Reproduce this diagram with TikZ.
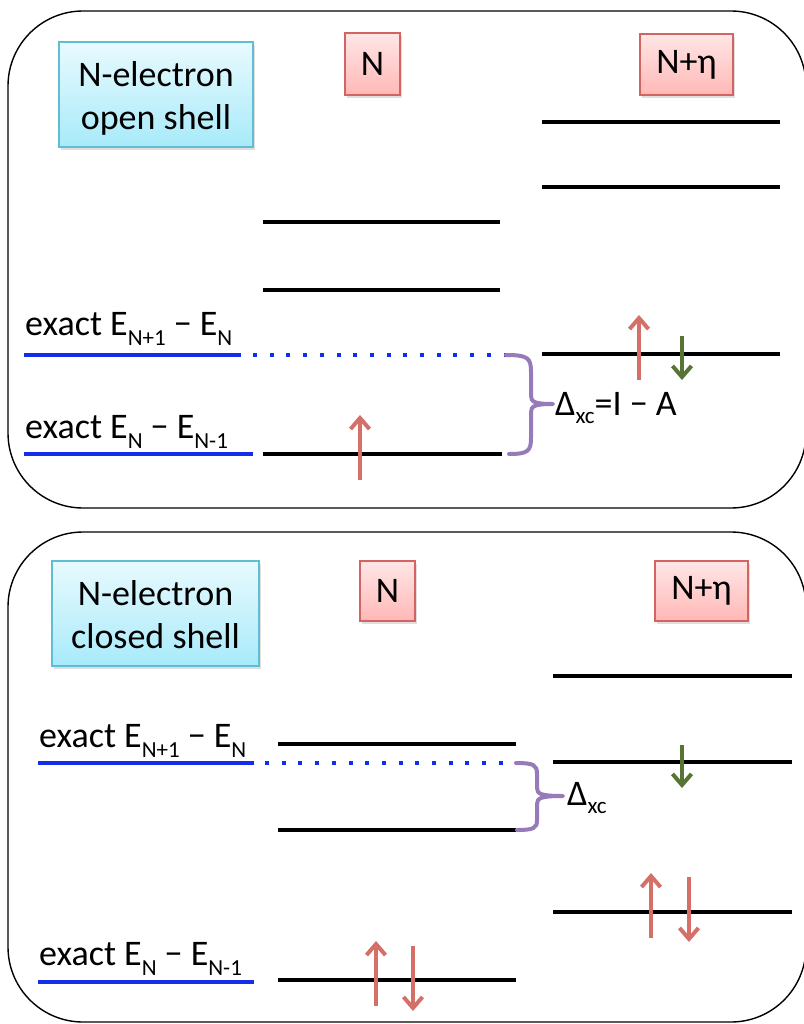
\documentclass[tikz,border=0pt]{standalone}
\usepackage{fontspec}
\setmainfont{Carlito}
\usetikzlibrary{arrows.meta,shadows}

\definecolor{levelblue}{RGB}{20,45,235}
\definecolor{spinred}{RGB}{212,112,104}
\definecolor{spingreen}{RGB}{88,116,52}
\definecolor{bracepurple}{RGB}{150,122,186}
\definecolor{cyanborder}{RGB}{95,190,212}
\definecolor{cyantop}{RGB}{232,250,254}
\definecolor{cyanbot}{RGB}{168,234,250}
\definecolor{pinkborder}{RGB}{212,100,98}
\definecolor{pinktop}{RGB}{255,230,230}
\definecolor{pinkbot}{RGB}{255,184,182}

% subscript used in the energy labels (optional argument: drop below the baseline)
\newcommand\lowidx[2][10.5pt]{\raisebox{-#1}{\fontsize{23}{23}\selectfont #2}}
% two-line title, set a little below the box centre
\newcommand\twolines[2]{\raisebox{-5pt}[\height][\depth]{\begin{tabular}{@{}c@{}}#1\\#2\end{tabular}}}

\tikzset{
  panel/.style={draw=black, line width=1.4pt, rounded corners=75pt},
  titlebox/.style={draw=cyanborder, line width=1.2pt, top color=cyantop, bottom color=cyanbot,
    drop shadow={opacity=0.25, shadow xshift=2pt, shadow yshift=-3pt},
    inner sep=0pt, font=\fontsize{36}{43}\selectfont},
  tagbox/.style={draw=pinkborder, line width=1.2pt, top color=pinktop, bottom color=pinkbot,
    drop shadow={opacity=0.25, shadow xshift=2pt, shadow yshift=-3pt},
    inner sep=0pt, font=\fontsize{36}{43}\selectfont},
  level/.style={line width=4pt, black},
  exactlevel/.style={line width=4pt, levelblue},
  exactdots/.style={line width=4pt, levelblue, dash pattern=on 4pt off 12.7pt},
  spinup/.style={line width=4pt, spinred, -{Straight Barb[length=11pt,width=19pt]}},
  spindown/.style={line width=4pt, spinred, -{Straight Barb[length=11pt,width=19pt]}},
  spingr/.style={line width=4pt, spingreen, -{Straight Barb[length=11pt,width=19pt]}},
  gapbrace/.style={line width=4pt, bracepurple, line cap=round, line join=round},
  elabel/.style={anchor=base west, inner sep=0pt, font=\fontsize{36}{43}\selectfont},
  dlabel/.style={anchor=base west, inner sep=0pt, font=\fontsize{36}{43}\selectfont},
}

\begin{document}
\begin{tikzpicture}[x=1pt,y=-1pt]
\useasboundingbox (0,0) rectangle (803,1024);

% ---------------- open shell panel ----------------
\draw[panel] (8,11) rectangle (806,508);
\node[titlebox, minimum width=194pt, minimum height=105pt] (open) at (156,94.5)
  {\twolines{N-electron}{open shell}};
\node[tagbox, minimum width=55pt, minimum height=62pt] (tagN1) at (372.5,64) {N};
\node[tagbox, minimum width=93pt, minimum height=61pt] (tagE1) at (686.5,64.5) {N+η};

% N levels
\draw[level] (263,222) -- (500,222);
\draw[level] (263,290) -- (500,290);
\coordinate (n1low) at (502,454);
\draw[level] (263,454) -- (n1low);
% N+eta levels
\draw[level] (542,122) -- (780,122);
\draw[level] (542,187) -- (780,187);
\draw[level] (542,354) -- (780,354);

% exact levels
\draw[exactlevel] (24,355) -- (241,355);
\coordinate (dots1end) at (506,355);
\draw[exactdots] (253,355) -- (dots1end);
\draw[exactlevel] (24,454) -- (253,454);
\node[elabel] (ea1) at (25,335) {exact E\lowidx{N+1} − E\lowidx{N}};
\node[elabel] (eb1) at (25,438) {exact E\lowidx{N} − E\lowidx{N-1}};

% spins
\draw[spinup] (360,480) -- (360,415);
\draw[spinup] (639,380) -- (639,315);
\draw[spingr] (682,336) -- (682,380);

% gap brace
\coordinate (tip1) at (553,404);
\draw[gapbrace] (dots1end) .. controls (528,355) and (531,358) .. (531,372) -- (531,396)
  .. controls (531,402) and (535,404) .. (tip1)
  .. controls (535,404) and (531,406) .. (531,412) -- (531,438)
  .. controls (531,451) and (528,454) .. (509,454);
\node[dlabel] (gap1) at (555,415) {Δ\lowidx[8pt]{xc}=I − A};

% ---------------- closed shell panel ----------------
\draw[panel] (8,532) rectangle (806,1022);
\node[titlebox, minimum width=207pt, minimum height=105pt] (closed) at (155.5,613.5)
  {\twolines{N-electron}{closed shell}};
\node[tagbox, minimum width=55pt, minimum height=60pt] (tagN2) at (387.5,591) {N};
\node[tagbox, minimum width=93pt, minimum height=60pt] (tagE2) at (701.5,591) {N+η};

% N levels
\draw[level] (278,744) -- (516,744);
\draw[level] (278,830) -- (516,830);
\draw[level] (278,980) -- (516,980);
% N+eta levels
\draw[level] (553,676) -- (792,676);
\draw[level] (553,762) -- (792,762);
\draw[level] (553,912) -- (792,912);

% exact levels
\draw[exactlevel] (38,763) -- (254,763);
\coordinate (dots2end) at (516,763);
\draw[exactdots] (265,763) -- (dots2end);
\draw[exactlevel] (38,982) -- (254,982);
\node[elabel] (ea2) at (39,747) {exact E\lowidx{N+1} − E\lowidx{N}};
\node[elabel] (eb2) at (39,965) {exact E\lowidx{N} − E\lowidx{N-1}};

% spins
\draw[spingr] (682,745) -- (682,788);
\draw[spinup] (651,938) -- (651,873);
\draw[spindown] (689,877) -- (689,942);
\draw[spinup] (376,1006) -- (376,941);
\draw[spindown] (413,946) -- (413,1011);

% gap brace
\coordinate (tip2) at (563,796);
\draw[gapbrace] (dots2end) .. controls (534,763) and (537,765) .. (537,774) -- (537,788)
  .. controls (537,794) and (541,796) .. (tip2)
  .. controls (541,796) and (537,798) .. (537,804) -- (537,820)
  .. controls (537,828) and (534,830) .. (517,830);
\node[dlabel] (gap2) at (567,805) {Δ\lowidx[8pt]{xc}};

\end{tikzpicture}
\end{document}
